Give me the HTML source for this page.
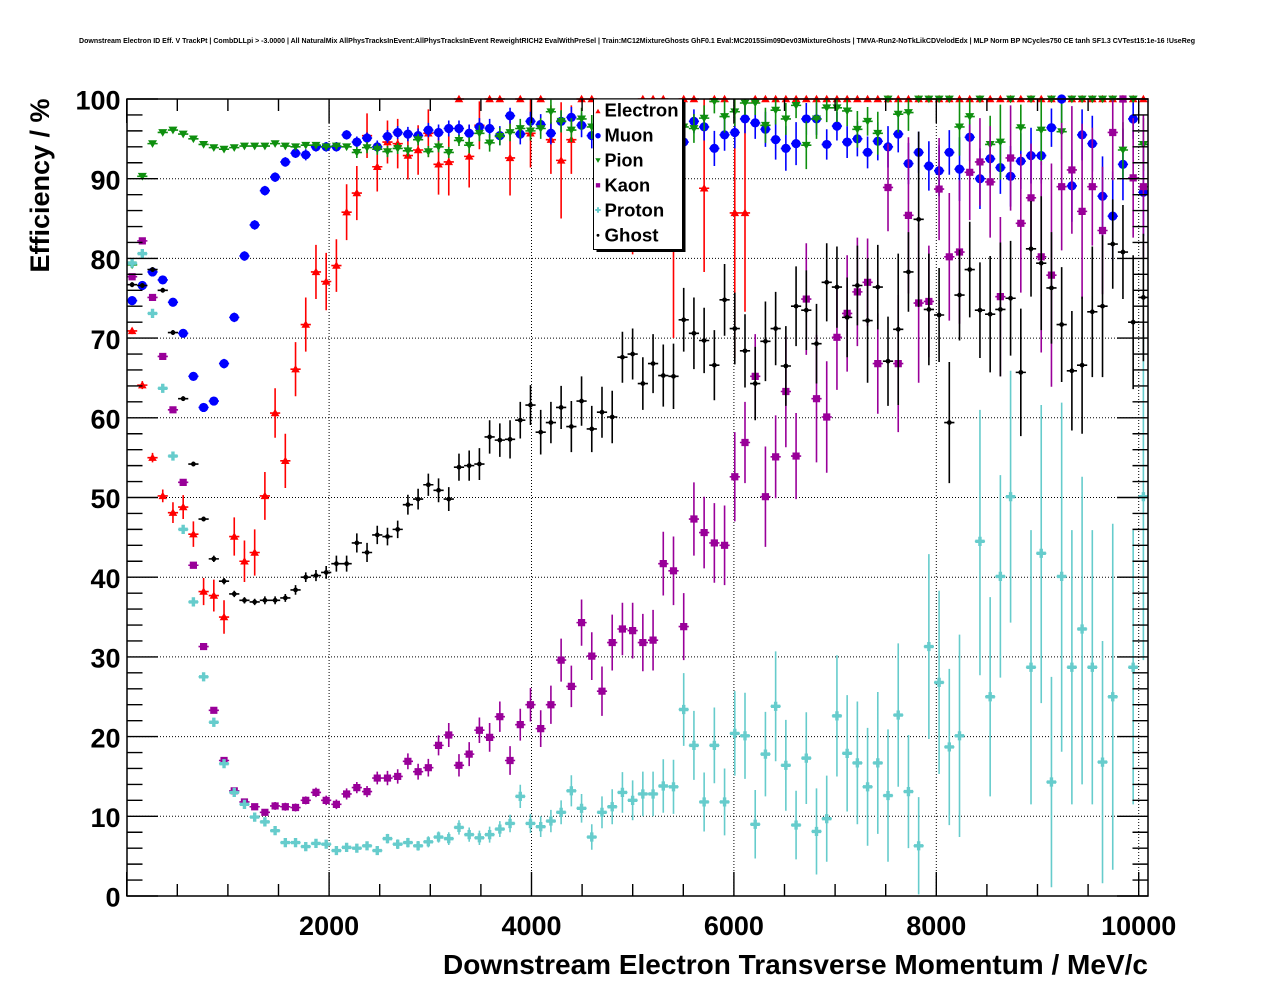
<!DOCTYPE html>
<html>
<head>
<meta charset="utf-8">
<style>
html,body{margin:0;padding:0;background:#fff;}
svg{display:block;}
text{font-family:"Liberation Sans",Arial,Helvetica,sans-serif;font-weight:bold;fill:#000;}
</style>
</head>
<body>
<svg id="chart" width="1276" height="996" viewBox="0 0 1276 996" xmlns="http://www.w3.org/2000/svg">
<rect x="0" y="0" width="1276" height="996" fill="#fff"/>

<text x="79" y="43" font-size="7.5" textLength="1116" lengthAdjust="spacingAndGlyphs">Downstream Electron ID Eff. V TrackPt | CombDLLpi &gt; -3.0000 | All NaturalMix AllPhysTracksInEvent:AllPhysTracksInEvent ReweightRICH2 EvalWithPreSel | Train:MC12MixtureGhosts GhF0.1 Eval:MC2015Sim09Dev03MixtureGhosts | TMVA-Run2-NoTkLikCDVelodEdx | MLP Norm BP NCycles750 CE tanh SF1.3 CVTest15:1e-16 !UseReg</text>

<g stroke="#000" stroke-width="1" stroke-dasharray="1,2" fill="none">
<path d="M329.1 99V896M531.5 99V896M733.9 99V896M936.3 99V896M1138.7 99V896"/>
<path d="M127 816.3H1148M127 736.6H1148M127 656.9H1148M127 577.2H1148M127 497.5H1148M127 417.8H1148M127 338.1H1148M127 258.4H1148M127 178.7H1148"/>
</g>

<g id="data"></g>

<g id="ticks" stroke="#000" stroke-width="1.4" fill="none"></g>
<rect x="127" y="99" width="1021" height="797" fill="none" stroke="#000" stroke-width="1.5"/>

<g font-size="27" text-anchor="end">
<text x="120.5" y="906.7">0</text>
<text x="120.5" y="827">10</text>
<text x="120.5" y="747.3">20</text>
<text x="120.5" y="667.6">30</text>
<text x="120.5" y="587.9">40</text>
<text x="120.5" y="508.2">50</text>
<text x="120.5" y="428.5">60</text>
<text x="120.5" y="348.8">70</text>
<text x="120.5" y="269.1">80</text>
<text x="120.5" y="189.4">90</text>
<text x="120.5" y="109.7">100</text>
</g>
<g font-size="27" text-anchor="middle">
<text x="329.1" y="935">2000</text>
<text x="531.5" y="935">4000</text>
<text x="733.9" y="935">6000</text>
<text x="936.3" y="935">8000</text>
<text x="1138.7" y="935">10000</text>
</g>
<text x="1148" y="974" font-size="28" text-anchor="end" textLength="705" lengthAdjust="spacingAndGlyphs">Downstream Electron Transverse Momentum / MeV/c</text>
<text transform="translate(49,98.5) rotate(-90)" font-size="27" text-anchor="end" textLength="174" lengthAdjust="spacingAndGlyphs">Efficiency / %</text>

<g id="legend">
<rect x="596.5" y="102" width="89" height="150" fill="#000"/>
<rect x="593.5" y="99" width="89" height="150.5" fill="#fff" stroke="#000" stroke-width="1"/>
<g id="legmarks"></g>
<g font-size="18">
<text x="604.5" y="116.7" textLength="74" lengthAdjust="spacingAndGlyphs">Electron</text>
<text x="604.5" y="141.7" textLength="49" lengthAdjust="spacingAndGlyphs">Muon</text>
<text x="604.5" y="166.7" textLength="39" lengthAdjust="spacingAndGlyphs">Pion</text>
<text x="604.5" y="191.7" textLength="45.7" lengthAdjust="spacingAndGlyphs">Kaon</text>
<text x="604.5" y="216.7" textLength="59.7" lengthAdjust="spacingAndGlyphs">Proton</text>
<text x="604.5" y="241.7" textLength="54" lengthAdjust="spacingAndGlyphs">Ghost</text>
</g>
</g>
</svg>

<script>
(function(){
var X0=132.1, DX=10.215, Y0=896, SY=7.97;
function cy(v){return Y0-SY*v;}
function f(n){return n.toFixed(2);}
function rep(v,n){var a=[];for(var i=0;i<n;i++)a.push(v);return a;}

function marker(t,x,y,s){
  s=s||1;
  if(t==='tu'){var a=4.3*s,b=3.2*s;return 'M'+f(x)+' '+f(y-a)+'L'+f(x+a)+' '+f(y+b)+'L'+f(x-a)+' '+f(y+b)+'Z';}
  if(t==='td'){var a=4.5*s,b=3.4*s,c=4.3*s;return 'M'+f(x-a)+' '+f(y-b)+'L'+f(x+a)+' '+f(y-b)+'L'+f(x)+' '+f(y+c)+'Z';}
  if(t==='ci'||t==='dot'){var r=(t==='ci'?4.6:2.4)*s;return 'M'+f(x-r)+' '+f(y)+'a'+f(r)+' '+f(r)+' 0 1 0 '+f(2*r)+' 0a'+f(r)+' '+f(r)+' 0 1 0 '+f(-2*r)+' 0Z';}
  if(t==='sq'){var h=3.6*s;return 'M'+f(x-h)+' '+f(y-h)+'h'+f(2*h)+'v'+f(2*h)+'h'+f(-2*h)+'Z';}
  if(t==='cr'){var L=4.6*s,w=1.7*s;return 'M'+f(x-L)+' '+f(y-w)+'h'+f(2*L)+'v'+f(2*w)+'h'+f(-2*L)+'Z'+'M'+f(x-w)+' '+f(y-L)+'h'+f(2*w)+'v'+f(2*L)+'h'+f(-2*w)+'Z';}
  return '';
}

var N=null;
var red_v=[70.9,64.1,55.0,50.2,48.1,48.8,45.4,38.2,37.7,35.0,
45.1,42.0,43.1,50.2,60.6,54.6,66.1,71.7,78.3,77.1,
79.1,85.8,88.2,95.4,91.5,94.6,94.4,92.9,93.6,95.7,
91.8,92.1,100,92.8,96.7,100,100,92.6,100,95.7,
100,94.9,92.3,94.9,100,100,97,97,97,93,
100,100,100,90,100,100,88.8,100,100,85.7,
85.7].concat(rep(100,39));
var red_e=[.4,.5,.6,.8,1.3,1.5,1.6,1.7,2.0,2.1,
2.4,2.6,2.9,3.0,3.1,3.4,3.4,3.4,3.4,3.6,
3.3,3.5,3.4,2.8,3.1,2.7,3.1,3.0,3.1,3.0,
3.8,4.2,0,3.9,3.0,0,0,4.7,0,4.3,
0,4.3,7.3,4.3,0,0,3,3,3,[12.5,5],
0,0,0,[20,8],0,0,[10.5,11.2],0,0,[18.2,14.3],
[12.4,14.3]].concat(rep(0,39));

var blue_v=[74.7,76.6,78.3,77.3,74.5,70.6,65.2,61.3,62.1,66.8,
72.6,80.3,84.2,88.5,90.2,92.1,93.2,93.0,94.0,94.0,
94.0,95.5,94.6,95.1,94.0,95.3,95.8,95.6,95.4,96.1,
95.8,96.3,96.3,95.7,96.5,96.3,95.4,97.9,95.6,97.2,
96.8,95.7,97.2,97.7,96.7,95.4,96,96,96,96,
96,96,96,96,94.6,97.2,96.5,93.8,95.5,95.8,
97.5,97.0,96.2,94.9,93.8,94.4,97.5,97.5,94.3,96.6,
94.6,95.0,93.3,94.7,94.0,95.6,91.9,93.3,91.6,91.0,
93.3,91.2,95.2,90.0,92.5,91.4,90.3,92.2,92.9,92.9,
96.4,100,89.1,95.5,94.4,87.8,85.3,91.8,97.5,88.3];
var blue_e=[.3,.4,.4,.4,.4,.4,.4,.5,.5,.6,
.6,.6,.6,.6,.6,.6,.6,.7,.6,.6,
.6,.6,.7,.7,.8,.8,.8,.9,.9,.9,
1.0,1.0,1.0,1.1,1.1,1.2,1.2,1.0,1.3,1.2,
1.3,1.4,1.3,1.3,1.5,1.6,1.5,1.5,1.5,1.5,
1.5,1.5,1.5,1.5,1.8,1.5,1.7,2.2,2.0,2.0,
1.8,2.0,2.2,2.5,2.8,2.7,2.0,2.0,1.9,1.8,
2.0,2.2,2.0,2.4,2.6,2.3,2.6,2.6,3.1,3.2,
2.8,4.0,3.0,3.8,2.4,3.3,3.8,3.5,3.5,3.5,
2.4,[3,0],4.5,3.2,3.5,5,5.6,4.5,2.5,5.5];

var green_v=[79.2,90.3,94.4,95.8,96.1,95.6,95.0,94.3,93.9,93.7,
93.9,94.1,94.1,94.1,94.4,94.1,94.0,94.2,94.2,94.0,
94.1,94.0,93.3,93.9,93.7,93.4,93.8,93.5,94.9,93.4,
94.0,93.3,94.8,94.2,95.7,94.5,95.3,95.8,96.3,96.0,
96.3,98.4,97.2,96.1,97.5,96.5,96.5,96.5,96.5,96.5,
96.5,96.5,96.5,96.5,96.5,96.3,97.6,99.7,97.8,98.4,
99.5,99.5,96.7,98.6,97.5,99.2,94.2,97.5,98.9,98.9,
98.5,96.2,97.2,95.7,100,98.1,98.3,100,100,100,
100,96.5,97.8,100,94.3,94.6,100,96.4,100,96.1,
100,95.9,100,100,100,100,100,93.6,100,94.3];
var green_e=[.4].concat(rep(.3,21)).concat(rep(.7,11)).concat(
[1.0,1.0,1.1,1.1,1.1,1.2,1.2,1.3,1.5,1.4,1.5,1.4,1.5]).concat(rep(1.5,9)).concat(
[1.8,1.6,1.5,2.0,1.8,1.5,1.5,2.2,1.8,2.0,1.6,3.0,
2.5,1.8,1.8,1.9,2.3,1.8,2.7,0,2.3,2.3,0,0,0,0,3.6,2.6,0,3.6,4.7,0,2.9,0,4.4,0,3.5,0,0,0,0,0,3.5,0,3.3]);

var kaon_v=[77.7,82.2,75.1,67.7,61.0,51.9,41.5,31.3,23.3,17.0,
13.2,11.8,11.2,10.5,11.3,11.2,11.1,12.0,13.0,12.0,
11.5,12.8,13.6,13.1,14.8,14.8,15.0,16.9,15.6,16.1,
18.9,20.2,16.4,17.8,20.8,19.9,22.5,17.0,21.5,24.0,
21.0,24.0,29.6,26.3,34.3,30.1,25.7,31.8,33.5,33.3,
31.8,32.1,41.7,40.8,33.8,47.3,45.6,44.3,44.0,52.6,
56.9,65.2,50.1,55.1,63.3,55.2,74.9,62.4,60.1,70.1,
73.1,75.8,77.0,66.8,88.9,66.8,85.4,74.4,74.6,88.7,
80.2,80.8,90.8,92.1,89.6,75.2,92.6,84.4,87.6,80.2,
77.9,89.0,91.1,85.9,89.0,83.5,95.8,100,90.1,89.0];
var kaon_e=[.4,.4,.4,.4,.4,.4,.4,.4,.4,.4,
.4,.4,.4,.4,.5,.5,.5,.5,.6,.6,
.6,.7,.7,.7,.8,.9,.9,1.0,1.0,1.1,
1.25,1.5,1.4,1.5,1.6,1.8,1.9,1.8,2.0,2.1,
2.3,2.4,2.7,2.6,2.9,3.0,3.1,3.5,3.3,3.5,
3.6,3.8,4.0,4.3,4.2,4.6,4.5,5.0,5.0,5.6,
5.1,5.3,6.3,5.2,7,5.4,7,8,7,6.6,
7.3,6.8,5.5,6.3,5.5,8.6,9.8,10,7,6.4,
8,9,6,5.5,7,10,6.6,8.7,6.8,12,
14,8,8,11,7.4,8,6,[6,0],7.5,9];

var prot_v=[79.4,80.6,73.1,63.7,55.2,46.0,36.9,27.5,21.8,16.6,
13.0,11.5,9.9,9.3,8.2,6.7,6.7,6.2,6.6,6.5,
5.7,6.1,6.0,6.3,5.7,7.2,6.5,6.7,6.3,6.8,
7.4,7.2,8.6,7.7,7.3,7.7,8.4,9.1,12.5,9.1,
8.7,9.4,10.5,13.2,11.0,7.4,10.5,11.2,13.0,12.0,
12.8,12.8,13.8,13.7,23.4,18.9,11.8,18.9,11.8,20.4,
20.1,9.0,17.8,23.8,16.4,8.9,17.3,8.1,9.7,22.6,
17.9,16.7,13.7,16.7,12.6,22.7,13.1,6.3,31.3,26.8,
18.7,20.1,N,44.5,25.0,40.1,50.1,N,28.7,43.0,
14.3,40.1,28.7,33.5,28.7,16.8,25.0,N,28.7,50.1];
var prot_e=[.3,.3,.3,.4,.4,.4,.4,.4,.4,.4,
.4,.4,.4,.4,.4,.4,.4,.4,.4,.4,
.5,.5,.5,.5,.5,.6,.6,.6,.6,.7,
.7,.8,.9,.9,.9,1.0,1.0,1.1,1.46,1.2,
1.3,1.4,1.5,1.95,1.8,1.6,2.0,2.2,2.55,2.5,
2.8,2.8,3.35,3.4,4.56,4.33,3.7,4.75,4.2,5.3,
5.4,4.3,5.3,6.9,5.7,4.3,5.75,5.4,5.4,7.6,
7.3,7.7,7.4,8.9,8.3,9.0,7.1,6.1,11.6,11.5,
9.8,12.7,0,[16.8,16.5],12.5,12.7,15.8,0,17.2,[18.8,18.6],
13.2,[22,21.8],17.2,[19.5,19.1],17.2,15.2,21.7,0,17.2,[20.5,20.3]];

var gh_v=[76.7,76.6,78.6,76.0,70.7,62.4,54.2,47.3,42.3,39.5,
37.9,37.1,36.9,37.1,37.1,37.4,38.4,40.0,40.2,40.6,
41.7,41.7,44.3,43.1,45.3,45.1,46.0,49.1,49.8,51.6,
50.9,49.8,53.8,54.0,54.2,57.6,57.2,57.3,59.7,61.6,
58.2,59.4,61.3,58.9,62.1,58.6,60.7,60.1,67.6,68.0,
64.3,66.8,65.3,65.2,72.3,70.6,69.7,66.6,74.8,71.2,
68.4,64.3,69.6,71.2,66.5,74.0,73.5,69.3,77.0,76.4,
72.6,76.6,72.2,76.4,67.1,71.1,78.3,84.9,73.6,72.9,
59.4,75.4,78.6,73.5,73.0,73.6,75.0,65.7,81.2,79.4,
76.3,71.7,65.9,66.6,73.3,74.0,81.8,80.8,72.0,75.1];
var gh_e=[.3,.3,.3,.3,.3,.3,.3,.3,.4,.4,
.4,.4,.4,.5,.5,.5,.6,.6,.7,.8,
1.0,1.0,1.2,1.2,1.15,1.1,1.1,1.25,1.3,1.4,
1.5,1.5,1.7,1.9,2.0,2.1,2.1,2.4,2.3,2.5,
2.8,2.6,2.7,3.2,3.1,2.9,3.2,3.3,3.2,3.2,
3.3,3.7,3.9,4.1,4.0,4.5,4.1,4.4,4.5,4.5,
4.6,4.6,5.0,4.6,5.0,5.0,5.0,5.0,4.9,5.1,
5.0,5.0,7.8,5.3,5.6,9.5,5.0,11,7.0,5.9,
7.6,5.7,6.0,6.0,7.3,8.4,7.2,8.0,6.0,8.4,
7.0,7.2,7.5,8.6,8.2,8.9,5.6,5.9,8.4,8.0];

var series=[
 {c:'#ff0000',m:'tu',v:red_v,e:red_e},
 {c:'#0000ff',m:'ci',v:blue_v,e:blue_e},
 {c:'#0e8f0e',m:'td',v:green_v,e:green_e},
 {c:'#990099',m:'sq',v:kaon_v,e:kaon_e},
 {c:'#66cccc',m:'cr',v:prot_v,e:prot_e},
 {c:'#000000',m:'dot',v:gh_v,e:gh_e}
];

var out='';
series.forEach(function(s){
  var bars='',marks='';
  for(var i=0;i<s.v.length;i++){
    var v=s.v[i]; if(v===null||v===undefined) continue;
    var x=X0+DX*i, y=cy(v);
    var e=s.e[i]||0, lo, hi;
    if(Array.isArray(e)){lo=e[0];hi=e[1];}else{lo=e;hi=e;}
    var ylo=cy(Math.max(0,v-lo)), yhi=cy(Math.min(100,v+hi));
    bars+='M'+f(x-5.1)+' '+f(y)+'H'+f(x+5.1);
    if(ylo-yhi>0.6) bars+='M'+f(x)+' '+f(ylo)+'V'+f(yhi);
    marks+=marker(s.m,x,y,1);
  }
  out+='<path d="'+bars+'" stroke="'+s.c+'" stroke-width="1.6" fill="none"/>';
  out+='<path d="'+marks+'" fill="'+s.c+'"/>';
});
document.getElementById('data').innerHTML=out;

// legend markers
var lm='', ly=[111.3,135.7,160.3,185.3,210,235.3];
series.forEach(function(s,k){
  lm+='<path d="'+marker(s.m,598,ly[k],0.6)+'" fill="'+s.c+'"/>';
});
document.getElementById('legmarks').innerHTML=lm;

// ticks
var t='';
for(var k=0;k<=50;k++){
  var y=896-15.94*k, len=(k%5===0)?31:15.5;
  t+='M127 '+f(y)+'h'+len+'M1148 '+f(y)+'h'+(-len);
}
for(var xv=0;xv<=10000;xv+=500){
  var x=126.7+0.1012*xv, len2=(xv%2000===0)?24:12;
  t+='M'+f(x)+' 896v'+(-len2)+'M'+f(x)+' 99v'+len2;
}
document.getElementById('ticks').innerHTML='<path d="'+t+'"/>';
})();
</script>
</body>
</html>
